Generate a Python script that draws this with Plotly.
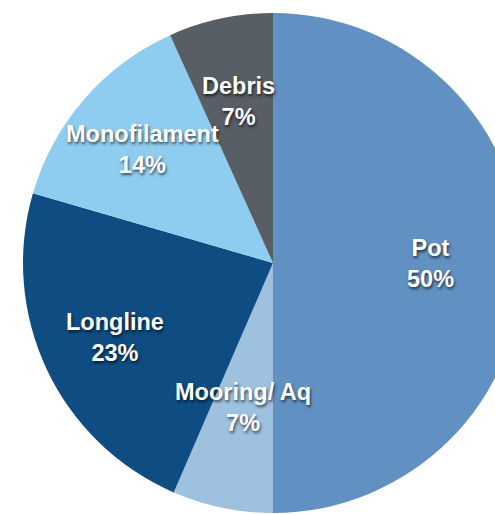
import math
import plotly.graph_objects as go

# Data
categories = ["Pot", "Mooring/ Aq", "Longline", "Monofilament", "Debris"]
values = [50, 6.5, 23, 13.75, 6.75]          # slice sizes
pct_labels = ["50%", "7%", "23%", "14%", "7%"]  # percentages as printed

# Style
colors = ["#6190c3", "#9dc1de", "#0e4c82", "#8fcdf0", "#585e65"]
label_radius = [0.63, 0.59, 0.70, 0.69, 0.66]

W, H = 530, 514
CX, CY, R = 273, 263, 250

fig = go.Figure(go.Pie(
    labels=categories,
    values=values,
    sort=False,
    direction="clockwise",
    rotation=0,
    marker=dict(colors=colors, line=dict(width=0)),
    textinfo="none",
    hoverinfo="label+percent",
    domain=dict(x=[(CX - R) / W, (CX + R) / W], y=[(H - CY - R) / H, (H - CY + R) / H]),
    showlegend=False,
))

total = sum(values)
cum = 0
annotations = []
for cat, v, p, rf in zip(categories, values, pct_labels, label_radius):
    mid = (cum + v / 2) / total * 2 * math.pi
    cum += v
    px = CX + rf * R * math.sin(mid)
    py = CY - rf * R * math.cos(mid)
    annotations.append(dict(
        x=px / W, y=1 - py / H, xref="paper", yref="paper",
        text=f"{cat}<br>{p}", showarrow=False,
        xanchor="center", yanchor="middle",
        font=dict(family="Liberation Sans, Arial, sans-serif", size=23.5, color="white",
                  weight="bold", shadow="1px 2px 3px rgba(0,0,0,0.65)"),
    ))

fig.update_layout(
    width=W, height=H,
    margin=dict(l=0, r=0, t=0, b=0),
    paper_bgcolor="white",
    plot_bgcolor="white",
    annotations=annotations,
)

fig.write_html("out.html",
               config={"displayModeBar": False},
               post_script="document.body.style.margin='0';document.body.style.overflow='hidden';")
